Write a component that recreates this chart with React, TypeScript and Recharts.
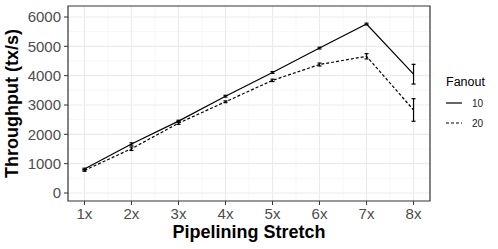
import { CartesianGrid, ErrorBar, Label, Line, LineChart, ReferenceArea, XAxis, YAxis } from "recharts"

const categories = ["1x", "2x", "3x", "4x", "5x", "6x", "7x", "8x"]
const fanout10 = [815, 1670, 2450, 3300, 4110, 4940, 5760, 4050]
const fanout20 = [770, 1510, 2380, 3110, 3840, 4380, 4660, 2830]
const err10 = [30, 40, 30, 30, 30, 30, 30, 336]
const err20 = [30, 60, 40, 30, 40, 50, 90, 385]
const yTicks = [0, 1000, 2000, 3000, 4000, 5000, 6000]
const yMinor = [500, 1500, 2500, 3500, 4500, 5500]
const xMinor = [1.5, 2.5, 3.5, 4.5, 5.5, 6.5, 7.5]

const data = categories.map((c, i) => ({
    x: i + 1,
    label: c,
    f10: fanout10[i],
    f20: fanout20[i],
    e10: err10[i],
    e20: err20[i],
}))

const font = "'Liberation Sans', Arial, sans-serif"
const xDomain = [0.65, 8.35]
const yDomain = [-273, 6375]

const LegendBox = () => (
    <svg width={58} height={70} style={{ position: "absolute", left: 440, top: 70, fontFamily: font }}>
        <text x={6} y={16} fontSize={12.5} fill="#000">Fanout</text>
        <line x1={6} x2={22} y1={33} y2={33} stroke="#000" strokeWidth={1.2} />
        <text x={32} y={37} fontSize={10} fill="#1a1a1a">10</text>
        <line x1={6} x2={22} y1={53} y2={53} stroke="#000" strokeWidth={1.2} strokeDasharray="3 2" />
        <text x={32} y={57} fontSize={10} fill="#1a1a1a">20</text>
    </svg>
)

const App = () => {
    return (
        <div style={{ position: "absolute", left: 0, top: 0, width: 498, height: 249, background: "#fff" }}>
            <LineChart width={498} height={249} data={data}
                margin={{ top: 6, right: 68, left: 0, bottom: 0 }}
                style={{ fontFamily: font }}>
                <CartesianGrid stroke="#f2f2f2" strokeWidth={0.6}
                    horizontalValues={yMinor} verticalValues={xMinor} />
                <CartesianGrid stroke="#ebebeb" strokeWidth={1.1}
                    horizontalValues={yTicks} verticalValues={[1, 2, 3, 4, 5, 6, 7, 8]} />
                <XAxis dataKey="x" type="number" domain={xDomain} allowDataOverflow
                    ticks={[1, 2, 3, 4, 5, 6, 7, 8]}
                    tickFormatter={(v: number) => categories[v - 1]}
                    height={48} axisLine={false} tickSize={4} tickMargin={3}
                    tickLine={{ stroke: "#333333" }}
                    tick={{ fill: "#4d4d4d", fontSize: 15 }}>
                    <Label value="Pipelining Stretch" position="insideBottom" offset={11}
                        style={{ fontSize: 18, fontWeight: "bold", fill: "#000" }} />
                </XAxis>
                <YAxis type="number" domain={yDomain} allowDataOverflow ticks={yTicks}
                    width={68} axisLine={false} tickSize={4} tickMargin={3}
                    tickLine={{ stroke: "#333333" }}
                    tick={{ fill: "#4d4d4d", fontSize: 15 }}>
                    <Label value="Throughput (tx/s)" angle={-90} position="insideLeft" offset={12}
                        style={{ fontSize: 18, fontWeight: "bold", fill: "#000", textAnchor: "middle" }} />
                </YAxis>
                <ReferenceArea x1={xDomain[0]} x2={xDomain[1]} y1={yDomain[0]} y2={yDomain[1]}
                    fill="none" stroke="#333333" strokeWidth={1.2} ifOverflow="visible" />
                <Line dataKey="f10" stroke="#000" strokeWidth={1.2} dot={false} isAnimationActive={false}>
                    <ErrorBar dataKey="e10" width={2} stroke="#000" strokeWidth={1.2} direction="y" isAnimationActive={false} />
                </Line>
                <Line dataKey="f20" stroke="#000" strokeWidth={1.2} strokeDasharray="3 2" dot={false} isAnimationActive={false}>
                    <ErrorBar dataKey="e20" width={2} stroke="#000" strokeWidth={1.2} direction="y" isAnimationActive={false} />
                </Line>
            </LineChart>
            <LegendBox />
        </div>
    )
}

export default App
